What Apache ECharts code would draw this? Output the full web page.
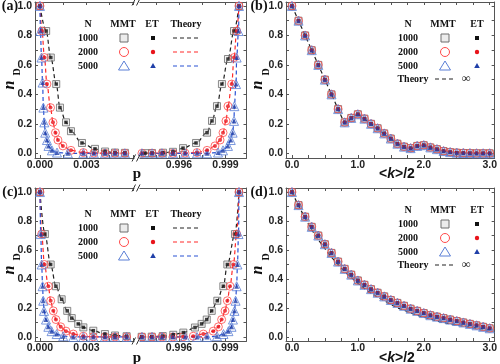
<!DOCTYPE html>
<html><head><meta charset="utf-8">
<script src="https://cdn.jsdelivr.net/npm/echarts@6/dist/echarts.min.js"></script>
<style>html,body{margin:0;padding:0;background:#fff}#c{width:500px;height:364px}</style>
</head><body><div id="c"></div>
<script>
// ---------- DATA ----------
// Panel (a): [p, n_D]
const aL1000 = [[0,1.0],[0.0004,0.83],[0.0007,0.65],[0.00105,0.47],[0.00129,0.31],[0.00168,0.21],[0.002,0.15],[0.00271,0.07],[0.00355,0.03],[0.0042,0.012],[0.00484,0.005],[0.00548,0.003]];
const aL2000 = [[0,1.0],[0.00013,0.83],[0.00029,0.65],[0.00045,0.47],[0.00068,0.31],[0.00084,0.21],[0.001,0.14],[0.00116,0.09],[0.00148,0.05],[0.002,0.02],[0.0028,0.005],[0.00348,0.001],[0.0042,0],[0.00484,0],[0.00548,0]];
const aL5000 = [[0,1.0],[0.00003,0.83],[0.0001,0.65],[0.00017,0.48],[0.00022,0.31],[0.00028,0.21],[0.00034,0.14],[0.00045,0.09],[0.00055,0.05],[0.00077,0.02],[0.0011,0.005],[0.0018,0],[0.0028,0],[0.00348,0],[0.0042,0],[0.00484,0],[0.00548,0]];
const aR1000 = [[0.99381,0.001],[0.99426,0.002],[0.99497,0.004],[0.99561,0.01],[0.99626,0.035],[0.9971,0.07],[0.99781,0.14],[0.99813,0.22],[0.99845,0.32],[0.99877,0.47],[0.99916,0.64],[0.99955,0.83],[0.99987,1.0]];
const aR2000 = [[0.99361,0],[0.99426,0],[0.9949,0],[0.99561,0],[0.99639,0.001],[0.99716,0.005],[0.99781,0.02],[0.99832,0.05],[0.99865,0.09],[0.99884,0.14],[0.99903,0.22],[0.99916,0.32],[0.9994,0.47],[0.99955,0.65],[0.99972,0.83],[0.99987,1.0]];
const aR5000 = [[0.99361,0],[0.99426,0],[0.9949,0],[0.99561,0],[0.99639,0],[0.99716,0],[0.99781,0],[0.99852,0.005],[0.99884,0.02],[0.99916,0.05],[0.99934,0.09],[0.99946,0.14],[0.99955,0.22],[0.99957,0.32],[0.99968,0.47],[0.99972,0.65],[0.99984,0.83],[0.99987,1.0]];
// Panel (c)
const cL1000 = [[0,1.0],[0.00032,0.71],[0.00069,0.50],[0.00103,0.35],[0.0014,0.26],[0.00176,0.18],[0.00205,0.13],[0.00247,0.09],[0.0028,0.066],[0.00344,0.043],[0.00419,0.02],[0.00484,0.01],[0.00559,0.005]];
const cL2000 = [[0,1.0],[0.00011,0.71],[0.00029,0.50],[0.00054,0.35],[0.00069,0.25],[0.00086,0.18],[0.00103,0.12],[0.00134,0.07],[0.00168,0.04],[0.00215,0.02],[0.0028,0.005],[0.00344,0.001],[0.00419,0],[0.00484,0],[0.00559,0]];
const cL5000 = [[0,1.0],[0.00005,0.71],[0.00011,0.50],[0.00017,0.35],[0.00021,0.25],[0.00026,0.18],[0.00039,0.12],[0.00054,0.07],[0.00075,0.04],[0.00108,0.02],[0.0015,0.005],[0.00215,0],[0.0028,0],[0.00344,0],[0.00419,0],[0.00484,0],[0.00559,0]];
const cR1000 = [[0.99359,0.001],[0.99424,0.002],[0.99495,0.006],[0.99563,0.015],[0.99628,0.03],[0.99703,0.065],[0.99746,0.09],[0.99779,0.12],[0.99811,0.18],[0.99847,0.25],[0.99886,0.35],[0.99912,0.50],[0.99961,0.71],[0.99987,1.0]];
const cR2000 = [[0.99361,0],[0.99426,0],[0.9949,0],[0.99561,0],[0.99626,0.001],[0.99692,0.005],[0.99757,0.02],[0.99821,0.04],[0.99854,0.07],[0.99875,0.12],[0.99897,0.18],[0.99912,0.25],[0.99929,0.35],[0.99951,0.50],[0.99972,0.71],[0.99987,1.0]];
const cR5000 = [[0.99361,0],[0.99426,0],[0.9949,0],[0.99561,0],[0.99639,0],[0.99716,0],[0.99781,0],[0.99845,0.005],[0.99887,0.02],[0.99919,0.04],[0.99939,0.07],[0.99948,0.12],[0.99958,0.18],[0.99965,0.25],[0.99972,0.35],[0.99977,0.50],[0.99984,0.71],[0.99987,1.0]];
// Panels (b),(d): <k>/2 grid and n_D
const kVals = [0,0.1,0.2,0.3,0.4,0.5,0.6,0.7,0.8,0.9,1.0,1.1,1.2,1.3,1.4,1.5,1.6,1.7,1.8,1.9,2.0,2.1,2.2,2.3,2.4,2.5,2.6,2.7,2.8,2.9,3.0];
const nbSim = [1.0,0.9,0.8,0.7,0.6,0.5,0.4,0.3,0.21,0.24,0.265,0.235,0.2,0.17,0.135,0.1,0.065,0.045,0.035,0.05,0.055,0.04,0.028,0.015,0.008,0.004,0.002,0.001,0,0,0];
const nbTheory = [1.0,0.9,0.8,0.7,0.6,0.5,0.4,0.3,0.2,0.235,0.27,0.235,0.2,0.165,0.13,0.1,0.065,0.04,0.03,0.045,0.055,0.04,0.025,0.015,0.008,0.004,0.002,0.001,0,0,0];
const ndSim = [1.0,0.91,0.83,0.76,0.70,0.64,0.58,0.52,0.47,0.43,0.39,0.36,0.33,0.305,0.28,0.255,0.235,0.215,0.195,0.18,0.165,0.15,0.14,0.13,0.12,0.11,0.10,0.09,0.08,0.07,0.06];
const ndTheory = [1.0,0.905,0.82,0.74,0.67,0.61,0.55,0.5,0.45,0.41,0.37,0.335,0.30,0.275,0.25,0.225,0.2,0.185,0.165,0.15,0.135,0.125,0.11,0.1,0.09,0.082,0.075,0.068,0.061,0.055,0.05];
const yLabelVals = [0,0.2,0.4,0.6,0.8,1.0];
const yTickVals = [0,0.1,0.2,0.3,0.4,0.5,0.6,0.7,0.8,0.9,1.0];
const pLeftLabels = [0,0.003];
const pLeftTicks = [0,0.0015,0.003,0.0045,0.006];
const pRightLabels = [0.996,0.999];
const pRightTicks = [0.9945,0.996,0.9975,0.999];
const kLabels = [0,1,2,3];
const kTicks = [0,0.25,0.5,0.75,1,1.25,1.5,1.75,2,2.25,2.5,2.75,3];
const Ns = ['1000','2000','5000'];

// ---------- STYLE ----------
const AX = '#555';
const MMT_COL = ['#6e6e6e','#ff4a4a','#5b7fd6'];
const ET_COL = ['#111111','#e8141b','#1f3fa8'];
const TH_COL = ['#222222','#ff2a2a','#2b52d4'];
const MMT_SYM = ['rect','circle','triangle'];
const MMT_SIZE = [7,8,9];
const ET_SIZE = [3.5,4,5];
const lbl = {fontFamily:'Liberation Sans', fontWeight:'bold', fontSize:10.5, color:'#222'};

const TOP = [2, 188], HT = [156, 153];
const YR = [[-0.032,1.027],[-0.028,1.028]];
const PL = [-0.00032, 0.00626], PR = [0.99329, 1.000355], KR = [-0.09, 3.075];

const grids = [], xAxes = [], yAxes = [], series = [];
function addGrid(left, width, top, h){ grids.push({left, top, width, height:h, containLabel:false}); return grids.length-1; }
function xAx(g, rng, labels, ticks, fmt, pos){
  xAxes.push({type:'value', gridIndex:g, position:pos, min:rng[0], max:rng[1],
    axisLine:{show:true,onZero:false,lineStyle:{color:AX,width:1}},
    axisTick:{show:true,inside:true,length:3,customValues:ticks,lineStyle:{color:AX}},
    axisLabel:pos==='bottom'?Object.assign({show:true,customValues:labels,formatter:fmt,margin:2},lbl):{show:false},
    splitLine:{show:false}});
  return xAxes.length-1;
}
function yAx(g, rng, pos, labels){
  yAxes.push({type:'value', gridIndex:g, position:pos, min:rng[0], max:rng[1],
    axisLine:{show:true,onZero:false,lineStyle:{color:AX,width:1}},
    axisTick:{show:true,inside:true,length:3,customValues:yTickVals,lineStyle:{color:AX}},
    axisLabel:labels?Object.assign({show:true,customValues:yLabelVals,formatter:v=>v.toFixed(1),margin:3},lbl):{show:false},
    splitLine:{show:false}});
  return yAxes.length-1;
}
function addSeries(xi, yi, data, i, thData, smooth){
  series.push({type:'line', xAxisIndex:xi, yAxisIndex:yi, data:thData, symbol:'none', smooth:smooth?0.35:false, smoothMonotone:'x',
    lineStyle:{color:TH_COL[i], width:1.2, type:[4,3]}, z:2, silent:true});
  series.push({type:'scatter', xAxisIndex:xi, yAxisIndex:yi, data, symbol:MMT_SYM[i], symbolSize:MMT_SIZE[i],
    itemStyle:{color:i===0?'rgba(200,200,200,0.35)':'rgba(255,255,255,0)', borderColor:MMT_COL[i], borderWidth:1}, z:3, silent:true});
  series.push({type:'scatter', xAxisIndex:xi, yAxisIndex:yi, data, symbol:MMT_SYM[i], symbolSize:ET_SIZE[i],
    itemStyle:{color:ET_COL[i]}, z:4, silent:true});
}
const f3 = v=>v.toFixed(3), f1 = v=>v.toFixed(1);

const broken = [[aL1000,aL2000,aL5000,aR1000,aR2000,aR5000],[cL1000,cL2000,cL5000,cR1000,cR2000,cR5000]];
const kPanels = [[nbSim,nbTheory],[ndSim,ndTheory]];
for (let r=0;r<2;r++){
  const t = TOP[r], h = HT[r];
  const gL = addGrid(35, 102, t, h);
  const xLb = xAx(gL, PL, pLeftLabels, pLeftTicks, f3, 'bottom'); xAx(gL, PL, pLeftLabels, pLeftTicks, f3, 'top');
  const yL = yAx(gL, YR[r], 'left', true);
  const gR = addGrid(137, 109.5, t, h);
  const xRb = xAx(gR, PR, pRightLabels, pRightTicks, f3, 'bottom'); xAx(gR, PR, pRightLabels, pRightTicks, f3, 'top');
  const yR = yAx(gR, YR[r], 'right', false);
  const d = broken[r];
  for (let i=0;i<3;i++){ addSeries(xLb, yL, d[i], i, d[i], true); addSeries(xRb, yR, d[3+i], i, d[3+i], true); }
  const gK = addGrid(286, 212, t, h);
  const xK = xAx(gK, KR, kLabels, kTicks, f1, 'bottom'); xAx(gK, KR, kLabels, kTicks, f1, 'top');
  const yK = yAx(gK, YR[r], 'left', true); yAx(gK, YR[r], 'right', false);
  const [sim, th] = kPanels[r];
  const simData = kVals.map((k,j)=>[k, sim[j]]);
  const thData = kVals.map((k,j)=>[k, th[j]]);
  series.push({type:'line', xAxisIndex:xK, yAxisIndex:yK, data:thData, symbol:'none', lineStyle:{color:'#222',width:1.2,type:[4,3]}, z:2, silent:true});
  for (let i=0;i<3;i++){
    series.push({type:'scatter', xAxisIndex:xK, yAxisIndex:yK, data:simData, symbol:MMT_SYM[i], symbolSize:MMT_SIZE[i],
      itemStyle:{color:i===0?'rgba(200,200,200,0.35)':'rgba(255,255,255,0)', borderColor:MMT_COL[i], borderWidth:1}, z:3, silent:true});
  }
  for (let i=0;i<3;i++){
    series.push({type:'scatter', xAxisIndex:xK, yAxisIndex:yK, data:simData, symbol:MMT_SYM[i], symbolSize:ET_SIZE[i],
      itemStyle:{color:ET_COL[i]}, z:4, silent:true});
  }
}

// ---------- GRAPHICS (legends, titles) ----------
const G = [];
const SERIF = 'Liberation Serif';
function txt(x,y,s,font,opt){ G.push(Object.assign({type:'text', x, y, z:100, silent:true,
  style:{text:s, font:font||('bold 10px '+SERIF), fill:'#111', textAlign:'center', textVerticalAlign:'middle', align:'center', verticalAlign:'middle'}}, opt||{})); }
function mark(kind, i, x, y){
  if (kind==='mmt'){
    if (i===0) G.push({type:'rect', z:100, shape:{x:x-4,y:y-4,width:8,height:8}, style:{fill:'rgba(200,200,200,0.35)', stroke:MMT_COL[0], lineWidth:1}});
    if (i===1) G.push({type:'circle', z:100, shape:{cx:x,cy:y,r:4.5}, style:{fill:'none', stroke:MMT_COL[1], lineWidth:1}});
    if (i===2) G.push({type:'polygon', z:100, shape:{points:[[x,y-5],[x-5.5,y+4],[x+5.5,y+4]]}, style:{fill:'none', stroke:MMT_COL[2], lineWidth:1}});
  } else {
    if (i===0) G.push({type:'rect', z:100, shape:{x:x-2,y:y-2,width:4,height:4}, style:{fill:ET_COL[0]}});
    if (i===1) G.push({type:'circle', z:100, shape:{cx:x,cy:y,r:2.2}, style:{fill:ET_COL[1]}});
    if (i===2) G.push({type:'polygon', z:100, shape:{points:[[x,y-3],[x-2.8,y+2],[x+2.8,y+2]]}, style:{fill:ET_COL[2]}});
  }
}
function dash(x1,x2,y,col){ G.push({type:'line', z:100, shape:{x1,y1:y,x2,y2:y}, style:{stroke:col, lineWidth:1.2, lineDash:[4,3]}}); }
function legendAC(y0, rows){
  txt(88,y0,'N'); txt(123,y0,'MMT'); txt(152,y0,'ET'); txt(186,y0,'Theory');
  for (let i=0;i<3;i++){ const y=rows[i]; txt(88,y,Ns[i]); mark('mmt',i,124,y); mark('et',i,153,y); dash(173,198,y,TH_COL[i]); }
}
function legendBD(y0, rows, yt){
  txt(408,y0,'N'); txt(443,y0,'MMT'); txt(477,y0,'ET');
  for (let i=0;i<3;i++){ const y=rows[i]; txt(408,y,Ns[i]); mark('mmt',i,445,y); mark('et',i,477,y); }
  txt(413,yt,'Theory'); dash(435,454,yt,'#222'); txt(466,yt,'∞','bold 12px '+SERIF);
}
legendAC(24,[38,52,66]);
legendAC(214,[228,242,256]);
legendBD(24,[38,52,66],79);
legendBD(210,[224,238,252],265);
txt(10,6,'(a)','bold 14px '+SERIF); txt(259,6,'(b)','bold 14px '+SERIF);
txt(10,192,'(c)','bold 14px '+SERIF); txt(259,192,'(d)','bold 14px '+SERIF);
[[10,85,17,72],[258,85,266,72],[10,270,17,257],[258,270,266,257]].forEach(a=>{
  txt(a[0],a[1],'n','italic bold 16px '+SERIF,{rotation:Math.PI/2});
  txt(a[2],a[3],'D','bold 10px '+SERIF,{rotation:Math.PI/2});
});
txt(137,174,'p','bold 15px '+SERIF); txt(137,358,'p','bold 15px '+SERIF);
[174,358].forEach(y=>{
  G.push({type:'text', x:397, y, z:100, silent:true, style:{text:'{a|<}{k|k}{a|>/2}', textAlign:'center', textVerticalAlign:'middle', align:'center', verticalAlign:'middle',
    rich:{a:{fontFamily:'Liberation Sans',fontWeight:'bold',fontSize:14,fill:'#111'},k:{fontFamily:'Liberation Sans',fontWeight:'bold',fontStyle:'italic',fontSize:14,fill:'#111'}}}});
});
[2,158,188,341].forEach(y=>{
  G.push({type:'rect', z:100, shape:{x:134.5,y:y-2,width:5,height:4}, style:{fill:'#fff'}});
  G.push({type:'line', z:101, shape:{x1:132,y1:y+3.5,x2:135.5,y2:y-3.5}, style:{stroke:'#333',lineWidth:1}});
  G.push({type:'line', z:101, shape:{x1:136.5,y1:y+3.5,x2:140,y2:y-3.5}, style:{stroke:'#333',lineWidth:1}});
});

const chart = echarts.init(document.getElementById('c'), null, {renderer:'canvas'});
chart.setOption({animation:false, backgroundColor:'#fff', grid:grids, xAxis:xAxes, yAxis:yAxes, series, graphic:{elements:G}});
</script></body></html>
